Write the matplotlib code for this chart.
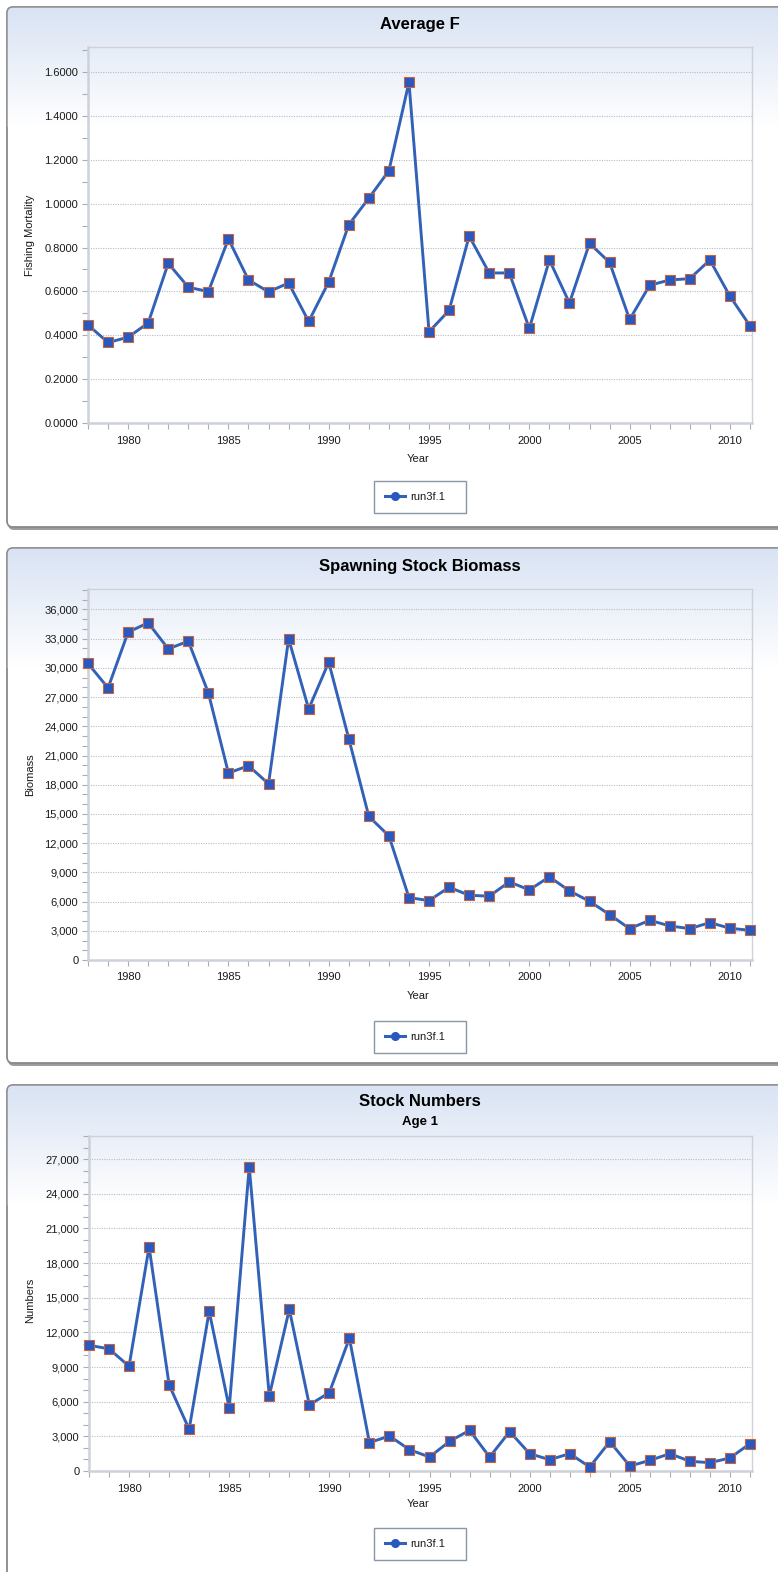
import numpy as np
import matplotlib.pyplot as plt
from matplotlib.patches import FancyBboxPatch
from matplotlib.ticker import MultipleLocator, FuncFormatter
from matplotlib.lines import Line2D

plt.rcParams['font.family'] = ['Liberation Sans', 'DejaVu Sans']

years = list(range(1978, 2012))

avg_f = [0.447, 0.367, 0.391, 0.456, 0.728, 0.619, 0.599, 0.839, 0.652, 0.598,
         0.638, 0.463, 0.643, 0.904, 1.025, 1.150, 1.553, 0.416, 0.513, 0.852,
         0.684, 0.684, 0.431, 0.743, 0.547, 0.819, 0.732, 0.472, 0.628, 0.652,
         0.658, 0.743, 0.578, 0.443]

ssb = [30450, 27940, 33670, 34630, 31950, 32740, 27430, 19200, 19950, 18100,
       32980, 25780, 30580, 22730, 14740, 12750, 6410, 6100, 7470, 6650,
       6550, 8020, 7200, 8540, 7100, 6030, 4660, 3220, 4080, 3500,
       3220, 3840, 3260, 3050]

age1 = [10890, 10570, 9070, 19400, 7450, 3610, 13830, 5460, 26340, 6500,
        14000, 5720, 6790, 11490, 2460, 3030, 1850, 1210, 2570, 3520,
        1210, 3410, 1500, 980, 1500, 350, 2540, 430, 920, 1500,
        840, 720, 1130, 2370]

series_name = 'run3f.1'

W, H = 778, 1572
fig = plt.figure(figsize=(W / 100, H / 100), dpi=100)
fig.patch.set_facecolor('white')

# background layer in pixel coordinates for the rounded chart boxes
bg = fig.add_axes([0, 0, 1, 1], zorder=0)
bg.set_xlim(0, W)
bg.set_ylim(H, 0)
bg.axis('off')

line_col = '#3261b8'
mk_face = '#2858c0'
mk_edge = '#c8643c'
grid_col = '#b8bcc4'
spine_col = '#cdd2da'
text_col = '#1a1a1a'


def panel_box(top, bottom, left=7, right=800):
    shadow = FancyBboxPatch((left + 1, top + 3), right - left, bottom - top,
                            boxstyle='round,pad=0,rounding_size=6',
                            facecolor='#9c9c9c', edgecolor='none', zorder=1)
    bg.add_patch(shadow)
    box = FancyBboxPatch((left, top), right - left, bottom - top,
                         boxstyle='round,pad=0,rounding_size=6',
                         facecolor='white', edgecolor='#8a8a8a', lw=1.0, zorder=2)
    bg.add_patch(box)
    # light blue fade at the top of the box
    n = 120
    t = np.linspace(0, 1, n)[:, None]
    c0 = np.array([0.85, 0.89, 0.955])
    grad = c0 + (1 - c0) * t
    grad = np.repeat(grad[:, None, :], 2, axis=1)
    im = bg.imshow(grad, extent=[left, right, top + n, top], origin='upper',
                   aspect='auto', interpolation='bilinear', zorder=3)
    im.set_clip_path(box)
    edge = FancyBboxPatch((left, top), right - left, bottom - top,
                          boxstyle='round,pad=0,rounding_size=6',
                          facecolor='none', edgecolor='#8a8a8a', lw=1.0, zorder=4)
    bg.add_patch(edge)


def plot_area(L, R, T, B):
    ax = fig.add_axes([L / W, 1 - B / H, (R - L) / W, (B - T) / H], zorder=5)
    ax.set_facecolor('none')
    for s in ax.spines.values():
        s.set_color(spine_col)
        s.set_linewidth(1.0)
    ax.spines['left'].set_linewidth(1.8)
    ax.spines['bottom'].set_linewidth(1.8)
    ax.tick_params(which='both', direction='out', color='#a8adb5',
                   labelcolor=text_col, labelsize=8)
    ax.tick_params(which='major', length=4, width=0.8)
    ax.tick_params(which='minor', length=4, width=0.8)
    ax.tick_params(axis='x', pad=5)
    ax.tick_params(axis='y', pad=3)
    ax.xaxis.set_major_locator(MultipleLocator(5))
    ax.xaxis.set_minor_locator(MultipleLocator(1))
    ax.set_xlim(1978, 2011.1)
    ax.yaxis.grid(True, which='major', linestyle=(0, (1, 1.2)),
                  color=grid_col, linewidth=0.8)
    ax.set_axisbelow(True)
    return ax


def draw_series(ax, values):
    ax.plot(years, values, color=line_col, lw=2.1, marker='s', markersize=7,
            markerfacecolor=mk_face, markeredgecolor=mk_edge,
            markeredgewidth=0.8, clip_on=False, zorder=6)


def add_legend(ax, cy):
    handle = Line2D([], [], color=line_col, lw=2.2, marker='o', markersize=5.5,
                    markerfacecolor=mk_face, markeredgecolor=mk_face)
    x0, w, h = 374, 92, 32
    leg = ax.legend([handle], [series_name], loc='center', mode='expand',
                    bbox_to_anchor=(x0 / W, 1 - (cy + h / 2) / H, w / W, h / H),
                    bbox_transform=fig.transFigure, fontsize=8,
                    frameon=True, fancybox=False, borderpad=0.95,
                    handlelength=1.8, handletextpad=0.55, borderaxespad=0)
    fr = leg.get_frame()
    fr.set_edgecolor('#8896a8')
    fr.set_linewidth(1.0)
    fr.set_facecolor('white')
    fr.set_alpha(1)
    for t in leg.get_texts():
        t.set_color(text_col)


def labels(title, xl_y, yl, yl_y, title_y):
    bg.text(420, title_y, title, ha='center', va='center', fontsize=12,
            fontweight='bold', color='black', zorder=10)
    bg.text(418, xl_y, 'Year', ha='center', va='center', fontsize=8,
            color=text_col, zorder=10)
    bg.text(30, yl_y, yl, ha='center', va='center', fontsize=8,
            rotation=90, color=text_col, zorder=10)


thousands = FuncFormatter(lambda v, p: f'{v:,.0f}')

# Average F
panel_box(7, 527)
ax1 = plot_area(88, 752, 47, 423)
draw_series(ax1, avg_f)
ax1.set_ylim(0, 1.714)
ax1.yaxis.set_major_locator(MultipleLocator(0.2))
ax1.yaxis.set_minor_locator(MultipleLocator(0.1))
ax1.yaxis.set_major_formatter(FuncFormatter(lambda v, p: f'{v:.4f}'))
labels('Average F', 459, 'Fishing Mortality', 235, 24)
add_legend(ax1, 497)

# Spawning Stock Biomass
panel_box(548, 1063)
ax2 = plot_area(88, 752, 589, 960)
draw_series(ax2, ssb)
ax2.set_ylim(0, 38100)
ax2.yaxis.set_major_locator(MultipleLocator(3000))
ax2.yaxis.set_minor_locator(MultipleLocator(1000))
ax2.yaxis.set_major_formatter(thousands)
labels('Spawning Stock Biomass', 996, 'Biomass', 775, 566)
add_legend(ax2, 1037)

# Stock Numbers, age 1
panel_box(1085, 1620)
ax3 = plot_area(89, 752, 1136, 1471)
draw_series(ax3, age1)
ax3.set_ylim(0, 29000)
ax3.yaxis.set_major_locator(MultipleLocator(3000))
ax3.yaxis.set_minor_locator(MultipleLocator(1000))
ax3.yaxis.set_major_formatter(thousands)
labels('Stock Numbers', 1504, 'Numbers', 1300, 1101)
bg.text(420, 1122, 'Age 1', ha='center', va='center', fontsize=9.5,
        fontweight='bold', color='black', zorder=10)
add_legend(ax3, 1544)

fig.savefig('out.png', dpi=100)
